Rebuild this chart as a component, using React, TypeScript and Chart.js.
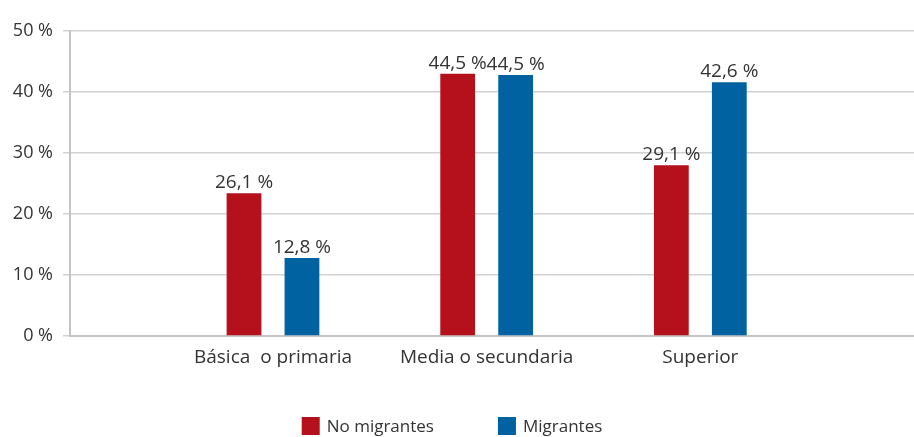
import React, { useEffect, useRef } from "react";
import { Chart, registerables } from "chart.js";

Chart.register(...registerables);

const categories = ["Básica  o primaria", "Media o secundaria", "Superior"];
const seriesNames = ["No migrantes", "Migrantes"];
// bar heights as drawn in the picture (%)
const noMigrantesBars = [23.4, 43.0, 28.0];
const migrantesBars = [12.8, 42.8, 41.6];
// values printed above the bars (%)
const noMigrantesLabels = [26.1, 44.5, 29.1];
const migrantesLabels = [12.8, 44.5, 42.6];
const yTicks = [0, 10, 20, 30, 40, 50];

const RED = "#B5111C";
const BLUE = "#0062A1";
const TEXT = "#333333";
const FONT = "'Open Sans', 'Noto Sans', sans-serif";

const fmt = (v: number) => v.toFixed(1).replace(".", ",") + " %";

const X_MIN = 0.05;
const X_MAX = 4.0;

export default function App() {
  const ref = useRef<HTMLCanvasElement | null>(null);

  useEffect(() => {
    document.body.style.margin = "0";
    const canvas = ref.current;
    if (!canvas) return;

    const labelsPlugin = {
      id: "valueLabels",
      afterDatasetsDraw(chart: any) {
        const ctx = chart.ctx;
        ctx.save();
        ctx.font = `19px ${FONT}`;
        ctx.fillStyle = TEXT;
        ctx.textAlign = "center";
        ctx.textBaseline = "alphabetic";
        chart.data.datasets.forEach((ds: any, di: number) => {
          const meta = chart.getDatasetMeta(di);
          meta.data.forEach((bar: any, i: number) => {
            ctx.fillText(fmt(ds.printed[i]), bar.x, bar.y - 5);
          });
        });
        ctx.restore();
      },
    };

    const legendPlugin = {
      id: "bottomLegend",
      afterDraw(chart: any) {
        const ctx = chart.ctx;
        ctx.save();
        ctx.font = `17px ${FONT}`;
        const box = 18;
        const gap = 7;
        const spacing = 64;
        const items = chart.data.datasets.map((ds: any) => ({
          text: ds.label,
          color: ds.backgroundColor,
          w: box + gap + ctx.measureText(ds.label).width,
        }));
        const total =
          items.reduce((s: number, it: any) => s + it.w, 0) +
          spacing * (items.length - 1);
        let x = chart.width / 2 - 5 - total / 2;
        const top = 417;
        items.forEach((it: any) => {
          ctx.fillStyle = it.color;
          ctx.fillRect(x, top, box, box);
          ctx.fillStyle = TEXT;
          ctx.textAlign = "left";
          ctx.textBaseline = "middle";
          ctx.fillText(it.text, x + box + gap, top + box / 2 + 1);
          x += it.w + spacing;
        });
        ctx.restore();
      },
    };

    const chart = new Chart(canvas, {
      type: "bar",
      data: {
        datasets: [
          {
            label: seriesNames[0],
            data: noMigrantesBars.map((v, i) => ({ x: i + 1, y: v })),
            backgroundColor: RED,
            printed: noMigrantesLabels,
          } as any,
          {
            label: seriesNames[1],
            data: migrantesBars.map((v, i) => ({ x: i + 1, y: v })),
            backgroundColor: BLUE,
            printed: migrantesLabels,
          } as any,
        ],
      },
      options: {
        animation: false,
        responsive: true,
        maintainAspectRatio: false,
        categoryPercentage: 0.571,
        barPercentage: 0.6,
        layout: { padding: { top: 31, left: 0, right: 0, bottom: 0 } },
        plugins: {
          legend: { display: false },
          tooltip: { enabled: false },
        },
        scales: {
          x: {
            type: "linear",
            offset: false,
            min: X_MIN,
            max: X_MAX,
            afterBuildTicks(scale: any) {
              scale.ticks = [{ value: X_MIN }].concat(
                categories.map((_, i) => ({ value: i + 1 }))
              );
            },
            afterFit(scale: any) {
              scale.height = 101;
            },
            grid: {
              drawOnChartArea: false,
              drawTicks: true,
              tickLength: 8,
              lineWidth: 2,
              color: (ctx: any) =>
                ctx.tick && ctx.tick.value === X_MIN ? "#c4c4c4" : "rgba(0,0,0,0)",
            },
            border: { display: true, color: "#c4c4c4", width: 2 },
            ticks: {
              padding: 2,
              autoSkip: false,
              maxRotation: 0,
              color: TEXT,
              font: { family: FONT, size: 19 },
              callback: (v: any) => {
                const i = Math.round(Number(v)) - 1;
                return Number.isInteger(Number(v)) && categories[i] ? categories[i] : "";
              },
            },
          },
          y: {
            min: 0,
            max: 50,
            afterBuildTicks(scale: any) {
              scale.ticks = yTicks.map((v) => ({ value: v }));
            },
            afterFit(scale: any) {
              scale.width = 70;
            },
            grid: {
              color: "#d2d2d2",
              lineWidth: 1.5,
              tickLength: 7,
            },
            border: { display: true, color: "#c4c4c4", width: 2 },
            ticks: {
              padding: 10,
              color: TEXT,
              font: { family: FONT, size: 18 },
              callback: (v: any) => `${v} %`,
            },
          },
        },
      },
      plugins: [labelsPlugin, legendPlugin],
    });

    return () => chart.destroy();
  }, []);

  return (
    <div style={{ width: 914, height: 437, position: "relative" }}>
      <canvas ref={ref} />
    </div>
  );
}
